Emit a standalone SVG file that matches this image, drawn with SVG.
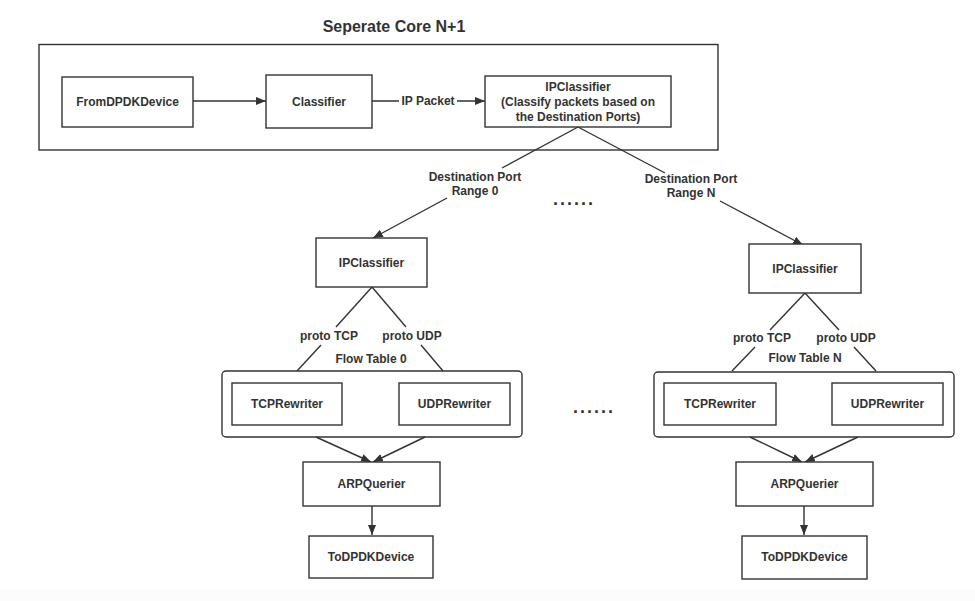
<svg xmlns="http://www.w3.org/2000/svg" width="975" height="601" viewBox="0 0 975 601">
<style>
.box{fill:#fff;stroke:#333;stroke-width:1.4}
.frame{fill:none;stroke:#333;stroke-width:1.4}
.t{font-family:"Liberation Sans",Arial,sans-serif;font-weight:bold;font-size:12px;fill:#333;text-anchor:middle}
.title{font-family:"Liberation Sans",Arial,sans-serif;font-weight:bold;font-size:16px;fill:#333;text-anchor:middle}
.dots{font-family:"Liberation Sans",Arial,sans-serif;font-weight:bold;font-size:18px;fill:#333;letter-spacing:2px}
.c{fill:none;stroke:#333;stroke-width:1.4}
.a{marker-end:url(#arr)}
</style>
<defs>
<marker id="arr" viewBox="0 0 10 8" refX="10" refY="4" markerWidth="10" markerHeight="8" markerUnits="userSpaceOnUse" orient="auto">
<path d="M0,0 L10,4 L0,8 z" fill="#333"/>
</marker>
</defs>
<rect x="0" y="0" width="975" height="601" fill="#fff"/>
<rect x="0" y="589" width="975" height="12" fill="#fcfcfc"/>

<g id="core-frame">
<text class="title" x="394" y="32">Seperate Core N+1</text>
<rect class="frame" x="39" y="44.5" width="679" height="105.5"/>
</g>

<g id="connectors">
<path class="c a" d="M193,101 H266"/>
<path class="c a" d="M372,101 H399 M457,101 H485"/>
<path class="c a" d="M578,127 L502,168 M447,198 L373,238"/>
<path class="c a" d="M578,127 L665,173 M720,201 L803,245"/>
<path class="c" d="M372,287 L336,327 M321,345 L297,371"/>
<path class="c" d="M372,287 L406,327 M421,345 L443,371"/>
<path class="c a" d="M316,437 L371,462"/>
<path class="c a" d="M425,437 L373,462"/>
<path class="c a" d="M372,506 V535"/>
<path class="c" d="M805,293 L770,330 M755,347 L732,371"/>
<path class="c" d="M805,293 L839,330 M854,347 L876,371"/>
<path class="c a" d="M750,437 L802,462"/>
<path class="c a" d="M858,437 L805,462"/>
<path class="c a" d="M804,506 V535"/>
</g>

<g id="connector-labels">
<text class="t" x="428" y="105">IP Packet</text>
<text class="t" x="475" y="181">Destination Port</text>
<text class="t" x="475" y="195">Range 0</text>
<text class="t" x="691" y="183">Destination Port</text>
<text class="t" x="691" y="197">Range N</text>
<text class="dots" x="553" y="205">......</text>
<text class="dots" x="573" y="413">......</text>
<text class="t" x="329" y="340">proto TCP</text>
<text class="t" x="412" y="340">proto UDP</text>
<text class="t" x="762" y="342">proto TCP</text>
<text class="t" x="846" y="342">proto UDP</text>
</g>

<g id="FromDPDKDevice">
<rect class="box" x="62" y="77" width="131" height="50"/>
<text class="t" x="127.5" y="106">FromDPDKDevice</text>
</g>
<g id="Classifier">
<rect class="box" x="266" y="75" width="106" height="53"/>
<text class="t" x="319" y="106">Classifier</text>
</g>
<g id="IPClassifier-main">
<rect class="box" x="485" y="76" width="186" height="51"/>
<text class="t" x="578" y="91">IPClassifier</text>
<text class="t" x="578" y="106">(Classify packets based on</text>
<text class="t" x="578" y="121">the Destination Ports)</text>
</g>

<g id="IPClassifier-0">
<rect class="box" x="316" y="238" width="111" height="49"/>
<text class="t" x="371.5" y="267">IPClassifier</text>
</g>
<g id="FlowTable-0">
<rect class="frame" x="222" y="371" width="300" height="66" rx="4"/>
<text class="t" x="371" y="363">Flow Table 0</text>
</g>
<g id="TCPRewriter-0">
<rect class="box" x="232" y="383" width="110" height="42"/>
<text class="t" x="287" y="408">TCPRewriter</text>
</g>
<g id="UDPRewriter-0">
<rect class="box" x="399" y="383" width="111" height="42"/>
<text class="t" x="454.5" y="408">UDPRewriter</text>
</g>
<g id="ARPQuerier-0">
<rect class="box" x="303" y="462" width="137" height="44"/>
<text class="t" x="371.5" y="488">ARPQuerier</text>
</g>
<g id="ToDPDKDevice-0">
<rect class="box" x="309" y="536" width="124" height="42"/>
<text class="t" x="371" y="561">ToDPDKDevice</text>
</g>

<g id="IPClassifier-N">
<rect class="box" x="749" y="244" width="112" height="49"/>
<text class="t" x="805" y="273">IPClassifier</text>
</g>
<g id="FlowTable-N">
<rect class="frame" x="654" y="372" width="300" height="65" rx="4"/>
<text class="t" x="805" y="362">Flow Table N</text>
</g>
<g id="TCPRewriter-N">
<rect class="box" x="664" y="383" width="112" height="42"/>
<text class="t" x="720" y="408">TCPRewriter</text>
</g>
<g id="UDPRewriter-N">
<rect class="box" x="832" y="383" width="111" height="42"/>
<text class="t" x="887.5" y="408">UDPRewriter</text>
</g>
<g id="ARPQuerier-N">
<rect class="box" x="736" y="462" width="137" height="44"/>
<text class="t" x="804.5" y="488">ARPQuerier</text>
</g>
<g id="ToDPDKDevice-N">
<rect class="box" x="742" y="536" width="125" height="43"/>
<text class="t" x="804.5" y="561">ToDPDKDevice</text>
</g>
</svg>
